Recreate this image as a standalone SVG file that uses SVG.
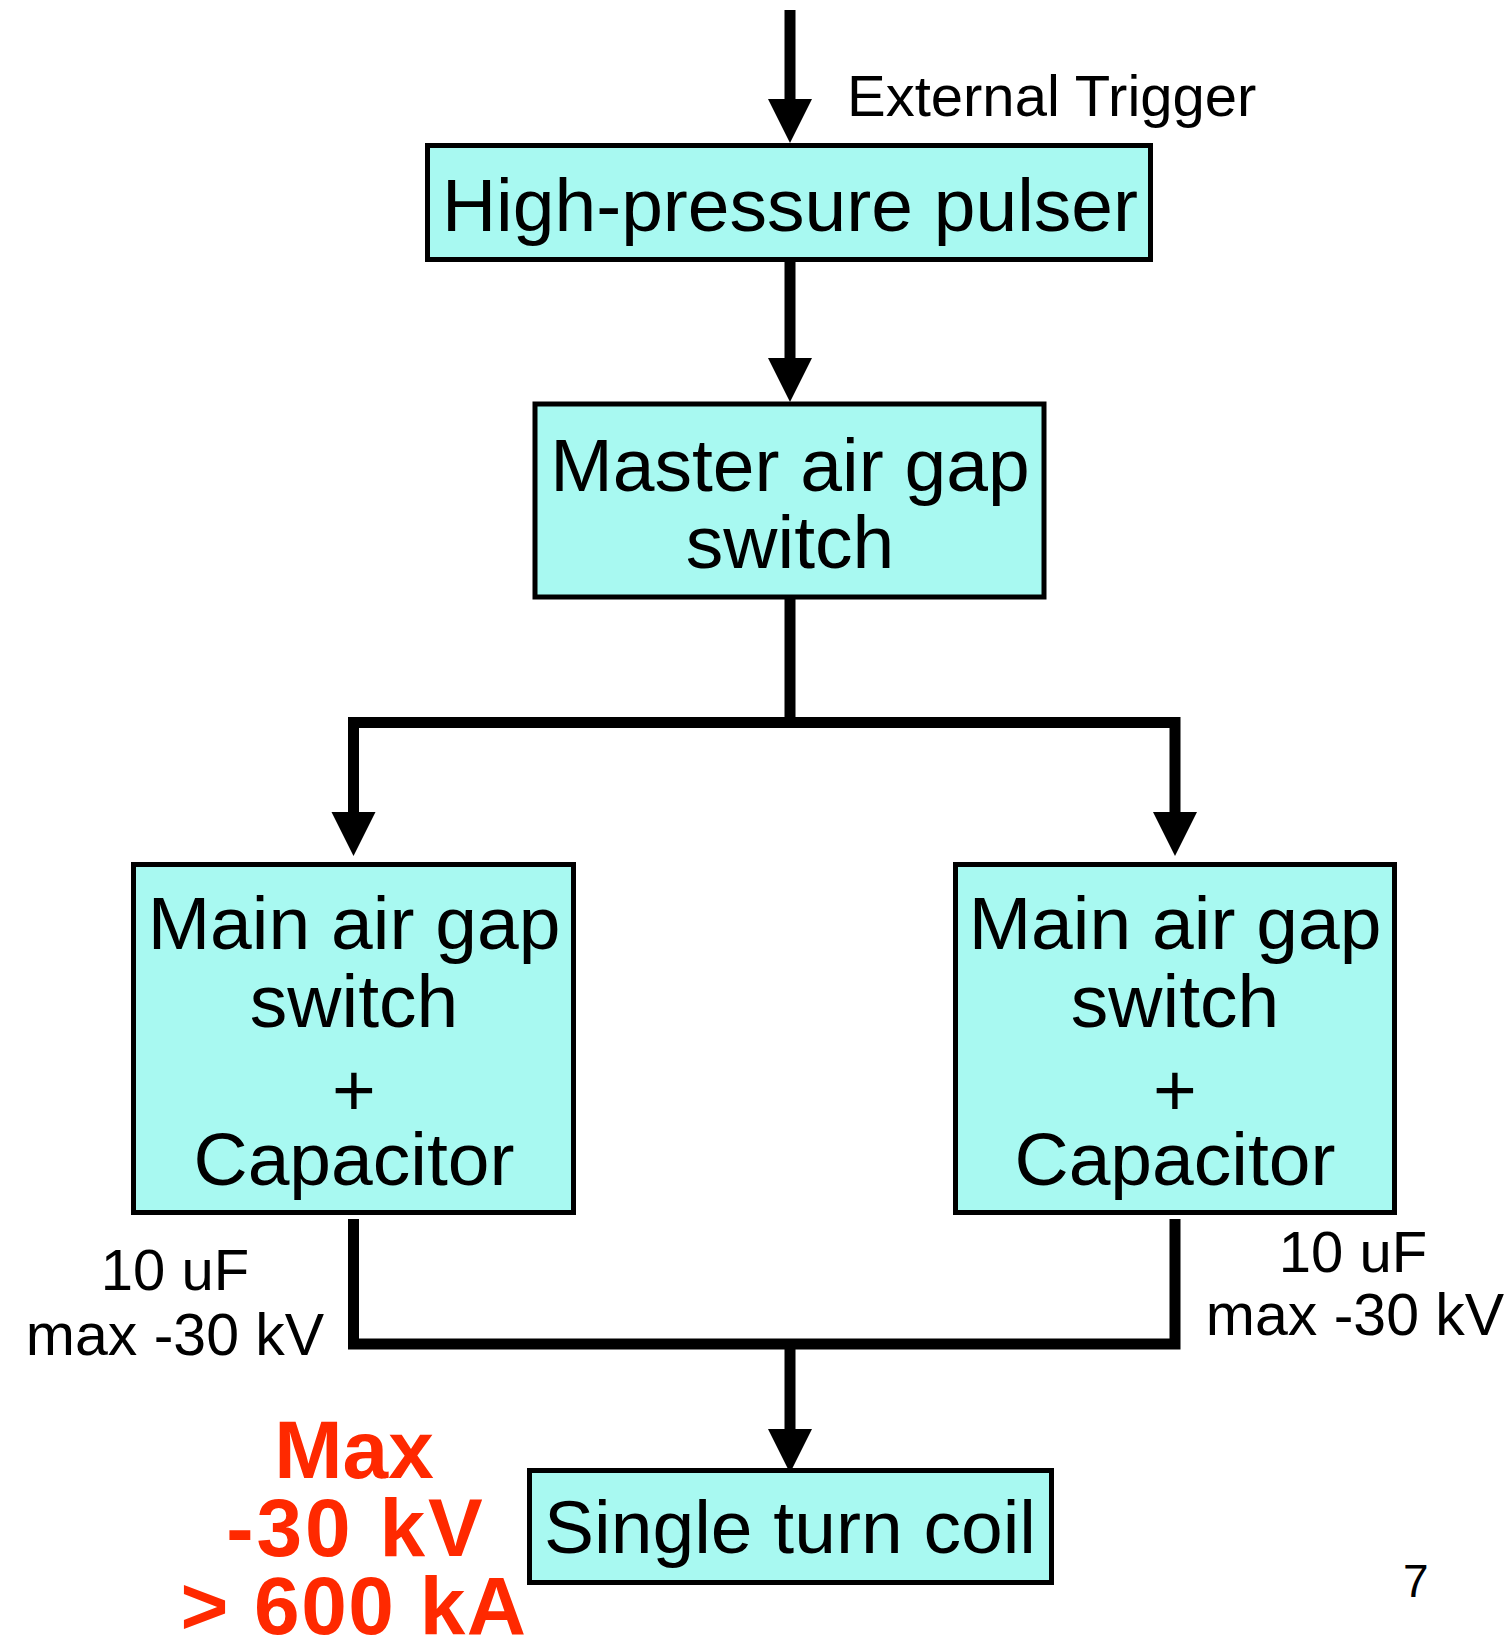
<svg xmlns="http://www.w3.org/2000/svg" width="1510" height="1635" viewBox="0 0 1510 1635">
<defs>
<style>
.box{fill:#A8F9F1;stroke:#000;stroke-width:5}
.t{font-family:"Liberation Sans",Arial,sans-serif;font-size:75px;fill:#000;text-anchor:middle}
.s{font-family:"Liberation Sans",Arial,sans-serif;font-size:58px;fill:#000;text-anchor:middle}
.r{font-family:"Liberation Sans",Arial,sans-serif;font-size:82px;font-weight:bold;fill:#FF2900;text-anchor:middle}
.w{fill:none;stroke:#000;stroke-width:11;stroke-linecap:butt}
.h{fill:#000}
</style>
</defs>
<rect width="1510" height="1635" fill="#fff"/>
<g id="connectors">
<line class="w" x1="790" y1="10" x2="790" y2="101"/>
<polygon class="h" points="768,99 812,99 790,143"/>
<line class="w" x1="790" y1="262" x2="790" y2="360"/>
<polygon class="h" points="768,358 812,358 790,402"/>
<line class="w" x1="790" y1="599" x2="790" y2="722"/>
<polyline class="w" points="353.5,814 353.5,722.5 1175,722.5 1175,814" style="stroke-linejoin:miter"/>
<polygon class="h" points="331.5,812 375.5,812 353.5,856"/>
<polygon class="h" points="1153,812 1197,812 1175,856"/>
<polyline class="w" points="353.5,1219 353.5,1344 1175,1344 1175,1219" style="stroke-linejoin:miter"/>
<line class="w" x1="790" y1="1344" x2="790" y2="1431"/>
<polygon class="h" points="768,1429 812,1429 790,1473"/>
</g>
<g id="trigger-label">
<text class="s" x="847" y="116" style="text-anchor:start">External Trigger</text>
</g>
<g id="pulser">
<rect class="box" x="427.5" y="145.5" width="723" height="114"/>
<text class="t" x="790" y="231">High-pressure pulser</text>
</g>
<g id="master">
<rect class="box" x="535" y="404" width="509" height="193"/>
<text class="t" x="790" y="491">Master air gap</text>
<text class="t" x="790" y="568">switch</text>
</g>
<g id="main-left">
<rect class="box" x="133.5" y="864.5" width="440" height="348"/>
<text class="t" x="354" y="949">Main air gap</text>
<text class="t" x="354" y="1027">switch</text>
<text class="t" x="354" y="1116">+</text>
<text class="t" x="354" y="1185">Capacitor</text>
</g>
<g id="main-right">
<rect class="box" x="955.5" y="864.5" width="439" height="348"/>
<text class="t" x="1175" y="949">Main air gap</text>
<text class="t" x="1175" y="1027">switch</text>
<text class="t" x="1175" y="1116">+</text>
<text class="t" x="1175" y="1185">Capacitor</text>
</g>
<g id="cap-left-label">
<text class="s" x="175" y="1290">10 uF</text>
<text class="s" x="175" y="1355" style="font-size:59px">max -30 kV</text>
</g>
<g id="cap-right-label">
<text class="s" x="1353" y="1272">10 uF</text>
<text class="s" x="1355" y="1335" style="font-size:59px">max -30 kV</text>
</g>
<g id="coil">
<rect class="box" x="529.5" y="1470.5" width="522" height="112"/>
<text class="t" x="790" y="1553">Single turn coil</text>
</g>
<g id="max-label">
<text class="r" x="354" y="1478">Max</text>
<text class="r" x="356" y="1556" style="letter-spacing:3px">-30 kV</text>
<text class="r" x="354" y="1634" style="letter-spacing:1.5px">&gt; 600 kA</text>
</g>
<g id="page-number">
<text class="s" x="1403" y="1597" style="text-anchor:start;font-size:46px">7</text>
</g>
</svg>
